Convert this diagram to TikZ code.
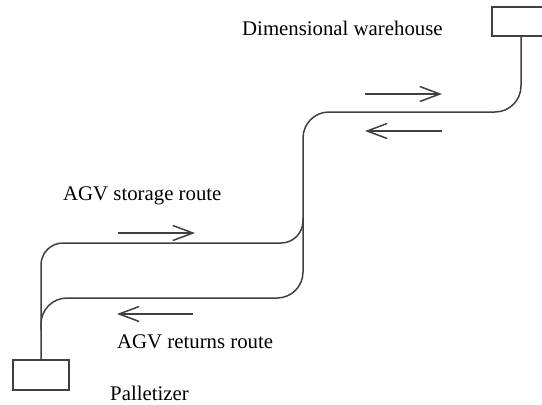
\documentclass[tikz,border=0pt]{standalone}
\usepackage{fontspec}
\setmainfont{Liberation Serif}
\usetikzlibrary{arrows.meta}
\begin{document}
\begin{tikzpicture}[x=1pt,y=-1pt,
  route/.style={draw=black!75,line width=1.5pt},
  station/.style={draw=black!75,line width=1.5pt,rectangle,inner sep=0pt},
  flow/.style={draw=black!75,line width=1.5pt,-{Straight Barb[length=20pt,width=15pt,line width=1.5pt]}},
  lbl/.style={font=\fontsize{20.8}{23}\selectfont,text=black,inner sep=0pt}]
\clip (0,0) rectangle (542,405);
\fill[white] (0,0) rectangle (542,405);
% stations
\node[station,minimum width=58pt,minimum height=29pt] (wh) at (521,21.5) {};
\node[station,minimum width=56pt,minimum height=30pt] (pal) at (41,375) {};
% labels
\node[lbl,anchor=west] (twh) at (242,28) {Dimensional warehouse};
\node[lbl,anchor=west] (tst) at (63,196) {AGV storage route};
\node[lbl,anchor=west] (tre) at (117,342) {AGV returns route};
\node[lbl,anchor=west] (tpa) at (110,393) {Palletizer};
% route coordinates
\coordinate (c1) at (521,112);
\coordinate (c2) at (303,112);
\coordinate (c3) at (303,298);
\coordinate (c4) at (41,298);
\coordinate (b0) at (303,218);
\coordinate (b1) at (303,243);
\coordinate (b2) at (41,243);
\coordinate (b3) at (41,330);
% main route (warehouse -> return -> palletizer)
\draw[route,rounded corners=26pt] (wh.south -| c1) -- (c1) -- (c2) -- (c3) -- (c4) -- (pal.north);
% storage route branch
\draw[route,rounded corners=22pt] (b0) -- (b1) -- (b2) -- (b3);
% direction arrows
\coordinate (a1s) at (365,94);  \coordinate (a1e) at (442,94);
\coordinate (a2s) at (442,131); \coordinate (a2e) at (365,131);
\coordinate (a3s) at (118,233); \coordinate (a3e) at (195,233);
\coordinate (a4s) at (193,314); \coordinate (a4e) at (117,314);
\draw[flow] (a1s) -- (a1e);
\draw[flow] (a2s) -- (a2e);
\draw[flow] (a3s) -- (a3e);
\draw[flow] (a4s) -- (a4e);
\end{tikzpicture}
\end{document}
